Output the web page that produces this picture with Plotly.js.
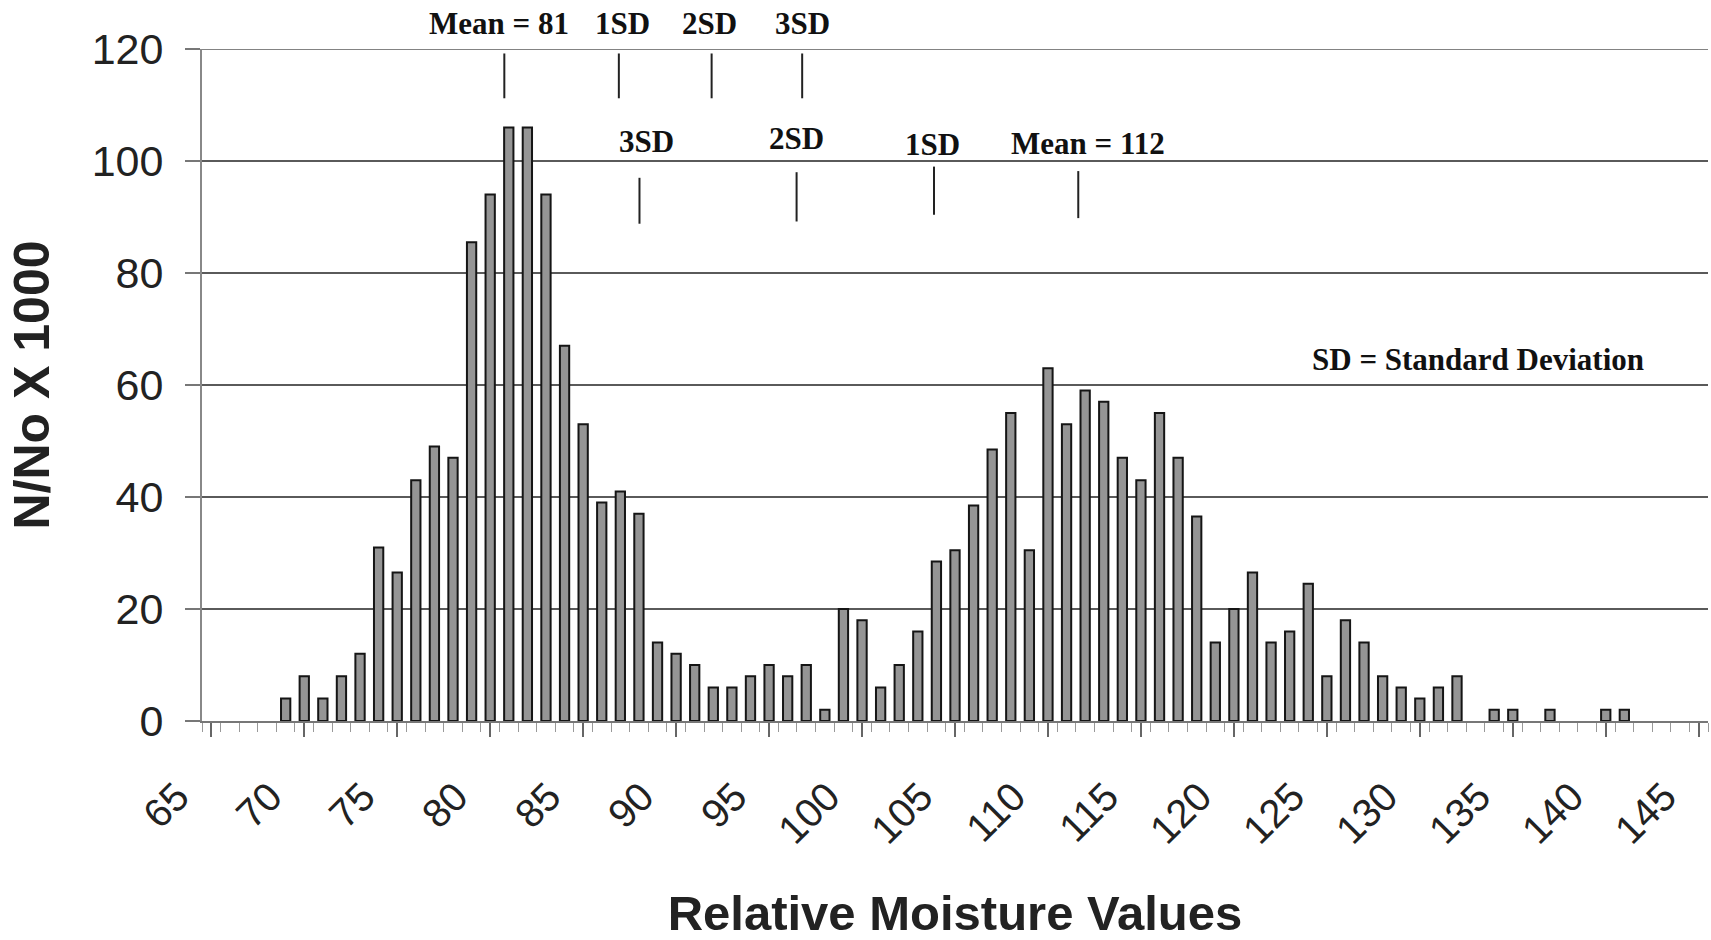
<!DOCTYPE html>
<html>
<head>
<meta charset="utf-8">
<script src="https://cdn.plot.ly/plotly-3.0.1.min.js"></script>
<style>
  html, body { margin: 0; padding: 0; background: #fff; }
  #chart { width: 1711px; height: 940px; }
</style>
</head>
<body>
<div id="chart"></div>
<script>
// ---- data ----
const moistureValues = [69,70,71,72,73,74,75,76,77,78,79,80,81,82,83,84,85,86,87,88,89,90,91,92,93,94,95,96,97,98,99,100,
  101,102,103,104,105,106,107,108,109,110,111,112,113,114,115,116,117,118,119,120,121,122,123,124,125,126,127,128,129,130,131,132,
  134,135,137,140,141];
const frequency = [4,8,4,8,12,31,26.5,43,49,47,85.5,94,106,106,94,67,53,39,41,37,14,12,10,6,6,8,10,8,10,2,20,18,
  6,10,16,28.5,30.5,38.5,48.5,55,30.5,63,53,59,57,47,43,55,47,36.5,14,20,26.5,14,16,24.5,8,18,14,8,6,4,6,8,
  2,2,2,2,2];

const xTickValues = [65,70,75,80,85,90,95,100,105,110,115,120,125,130,135,140,145];
const xTickLabels = xTickValues.map(String);
const yTickValues = [0,20,40,60,80,100,120];

// upper group of markers (first population)
const upperLabels = ["Mean = 81","1SD","2SD","3SD"];
const upperMarkX = [80.76, 86.92, 91.91, 96.78];
const upperLabelX = [80.5, 87.1, 91.8, 96.8];
const upperMarkTop = 119.2, upperMarkBottom = 111.2, upperLabelY = 124.6;
// lower group of markers (second population)
const lowerLabels = ["3SD","2SD","1SD","Mean = 112"];
const lowerMarkX = [88.03, 96.48, 103.87, 111.63];
const lowerMarkTop = [97.0, 98.0, 99.0, 98.2];
const lowerMarkBottom = [88.8, 89.2, 90.4, 89.8];
const lowerLabelX = [88.4, 96.5, 103.8, 112.15];
const lowerLabelY = [103.4, 104.0, 102.9, 103.2];
const noteText = "SD = Standard Deviation";
const noteX = 133.15, noteY = 64.6;
const yMax = 120;

// ---- figure ----
const trace = {
  type: 'bar',
  x: moistureValues,
  y: frequency,
  width: 0.5,
  marker: { color: '#959595', line: { color: '#151515', width: 2 } },
  hoverinfo: 'x+y'
};

const serif = 'Liberation Serif, Times New Roman, serif';
const annFont = { family: serif, size: 31, color: '#111' };
const shapes = [
  // gridline at the top of the value axis
  { type: 'line', xref: 'paper', yref: 'y', x0: 0, x1: 1, y0: yMax, y1: yMax, line: { color: '#5a5a5a', width: 1.5 } }
];
const annotations = [];
upperMarkX.forEach((x, i) => {
  shapes.push({ type: 'line', xref: 'x', yref: 'y', x0: x, x1: x, y0: upperMarkTop, y1: upperMarkBottom,
    line: { color: '#222', width: 2 } });
  annotations.push({ xref: 'x', yref: 'paper', x: upperLabelX[i], y: upperLabelY / yMax, text: '<b>' + upperLabels[i] + '</b>',
    showarrow: false, font: annFont, xanchor: 'center', yanchor: 'middle' });
});
lowerMarkX.forEach((x, i) => {
  shapes.push({ type: 'line', xref: 'x', yref: 'y', x0: x, x1: x, y0: lowerMarkTop[i], y1: lowerMarkBottom[i],
    line: { color: '#222', width: 2 } });
  annotations.push({ xref: 'x', yref: 'y', x: lowerLabelX[i], y: lowerLabelY[i], text: '<b>' + lowerLabels[i] + '</b>',
    showarrow: false, font: annFont, xanchor: 'center', yanchor: 'middle' });
});
annotations.push({ xref: 'x', yref: 'y', x: noteX, y: noteY, text: '<b>' + noteText + '</b>',
  showarrow: false, font: annFont, xanchor: 'center', yanchor: 'middle' });

const layout = {
  width: 1711, height: 940,
  margin: { l: 202, r: 3, t: 49, b: 219 },
  paper_bgcolor: '#fff', plot_bgcolor: '#fff',
  showlegend: false,
  bargap: 0,
  font: { family: 'Liberation Sans, Arial, sans-serif', color: '#222' },
  xaxis: {
    range: [64.5, 145.5],
    tickmode: 'array', tickvals: xTickValues, ticktext: xTickLabels,
    tickangle: -45,
    tickfont: { size: 40, color: '#222' },
    ticklabelshift: -34,
    ticklabelstandoff: 20,
    ticklabeloverflow: 'allow',
    ticks: 'outside', ticklen: 14, tickwidth: 2, tickcolor: '#666',
    minor: { dtick: 1, tick0: 0.5, ticks: 'outside', ticklen: 9, tickwidth: 1, tickcolor: '#999', showgrid: false },
    showgrid: false, zeroline: false,
    showline: true, linecolor: '#777', linewidth: 2,
    title: { text: '<b>Relative Moisture Values</b>', font: { size: 49, color: '#222' }, standoff: 49 },
    fixedrange: true
  },
  yaxis: {
    range: [0, yMax],
    tickvals: yTickValues,
    tickfont: { size: 43, color: '#222' },
    ticks: 'outside', ticklen: 15, tickwidth: 2, tickcolor: '#777',
    ticklabelstandoff: 13,
    showgrid: true, gridcolor: '#5a5a5a', gridwidth: 1.5,
    zeroline: false,
    showline: true, linecolor: '#888', linewidth: 2,
    title: { text: '<b>N/No X 1000</b>', font: { size: 50, color: '#222' }, standoff: 26 },
    fixedrange: true
  },
  shapes: shapes,
  annotations: annotations
};

Plotly.newPlot('chart', [trace], layout, { displayModeBar: false, staticPlot: true });
</script>
</body>
</html>
